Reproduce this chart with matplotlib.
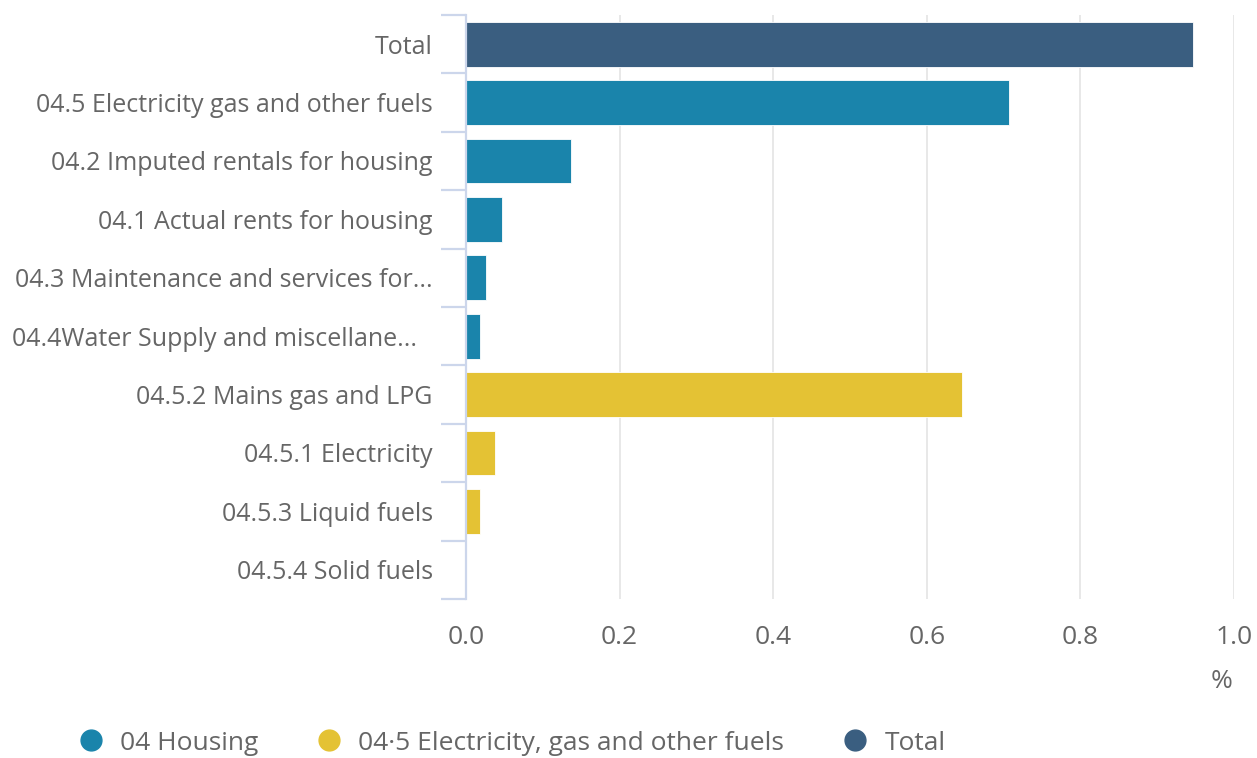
import matplotlib
matplotlib.use('Agg')
import matplotlib.pyplot as plt
import matplotlib.transforms as mtransforms
from matplotlib.lines import Line2D
from matplotlib.ticker import FixedLocator

plt.rcParams['font.family'] = ['Open Sans', 'DejaVu Sans']

# Data
categories = [
    'Total',
    '04.5 Electricity gas and other fuels',
    '04.2 Imputed rentals for housing',
    '04.1 Actual rents for housing',
    '04.3 Maintenance and services for...',
    '04.4Water Supply and miscellane...',
    '04.5.2 Mains gas and LPG',
    '04.5.1 Electricity',
    '04.5.3 Liquid fuels',
    '04.5.4 Solid fuels',
]
values = [0.947, 0.707, 0.137, 0.047, 0.026, 0.018, 0.646, 0.038, 0.018, 0.0]
groups = ['Total', 'Housing', 'Housing', 'Housing', 'Housing', 'Housing',
          'Fuels', 'Fuels', 'Fuels', 'Fuels']
x_ticks = [0.0, 0.2, 0.4, 0.6, 0.8, 1.0]

COLORS = {
    'Housing': '#1a84ab',
    'Fuels': '#e4c234',
    'Total': '#3a5e80',
    'text': '#666666',
    'axis': '#ccd6eb',
    'grid': '#e6e6e6',
}
legend_labels = [('Housing', '04 Housing'),
                 ('Fuels', '04\u00b75 Electricity, gas and other fuels'),
                 ('Total', 'Total')]

W, H = 1257, 758
fig = plt.figure(figsize=(W / 100, H / 100), dpi=100)
ax = fig.add_axes([466 / W, 1 - 599 / H, (1234 - 466) / W, (599 - 15) / H])

ypos = list(range(len(categories)))
ax.barh(ypos, values, height=0.77,
        color=[COLORS[g] for g in groups], zorder=3,
        edgecolor='white', linewidth=0.6)

ax.set_xlim(0, 1.0)
ax.set_ylim(len(categories) - 0.5, -0.5)

ax.set_yticks(ypos)
ax.set_yticklabels(categories)
ax.yaxis.set_minor_locator(FixedLocator([i - 0.5 for i in range(len(categories) + 1)]))
ax.tick_params(axis='y', which='major', length=0, pad=24, labelsize=18,
               labelcolor=COLORS['text'])
ax.tick_params(axis='y', which='minor', length=18, width=1.6,
               color=COLORS['axis'])

# the truncated "04.4Water..." label sits a little further left
lbl = ax.get_yticklabels()[5]
lbl.set_transform(lbl.get_transform() +
                  mtransforms.ScaledTranslation(-16 / 100, 0, fig.dpi_scale_trans))

ax.set_xticks(x_ticks)
ax.set_xticklabels([f'{t:.1f}' for t in x_ticks])
ax.tick_params(axis='x', length=0, pad=19, labelsize=19,
               labelcolor=COLORS['text'])

ax.grid(axis='x', color=COLORS['grid'], linewidth=1.3, zorder=0)
for s in ['top', 'right', 'bottom']:
    ax.spines[s].set_visible(False)
ax.spines['left'].set_color(COLORS['axis'])
ax.spines['left'].set_linewidth(1.6)
ax.spines['left'].set_zorder(4)

fig.text(1222 / W, 1 - 681 / H, '%', ha='center', va='center',
         fontsize=19, color=COLORS['text'])

handles = [Line2D([], [], marker='o', linestyle='none', markersize=15,
                  markerfacecolor=COLORS[k], markeredgecolor=COLORS[k])
           for k, _ in legend_labels]
fig.legend(handles, [lbl for _, lbl in legend_labels], loc='center',
           bbox_to_anchor=(0.407, 1 - 743 / H), ncol=3, frameon=False,
           fontsize=19, labelcolor=COLORS['text'], handletextpad=0.6,
           columnspacing=2.2, handlelength=1.0)

fig.savefig('out.png', dpi=100, facecolor='white')
